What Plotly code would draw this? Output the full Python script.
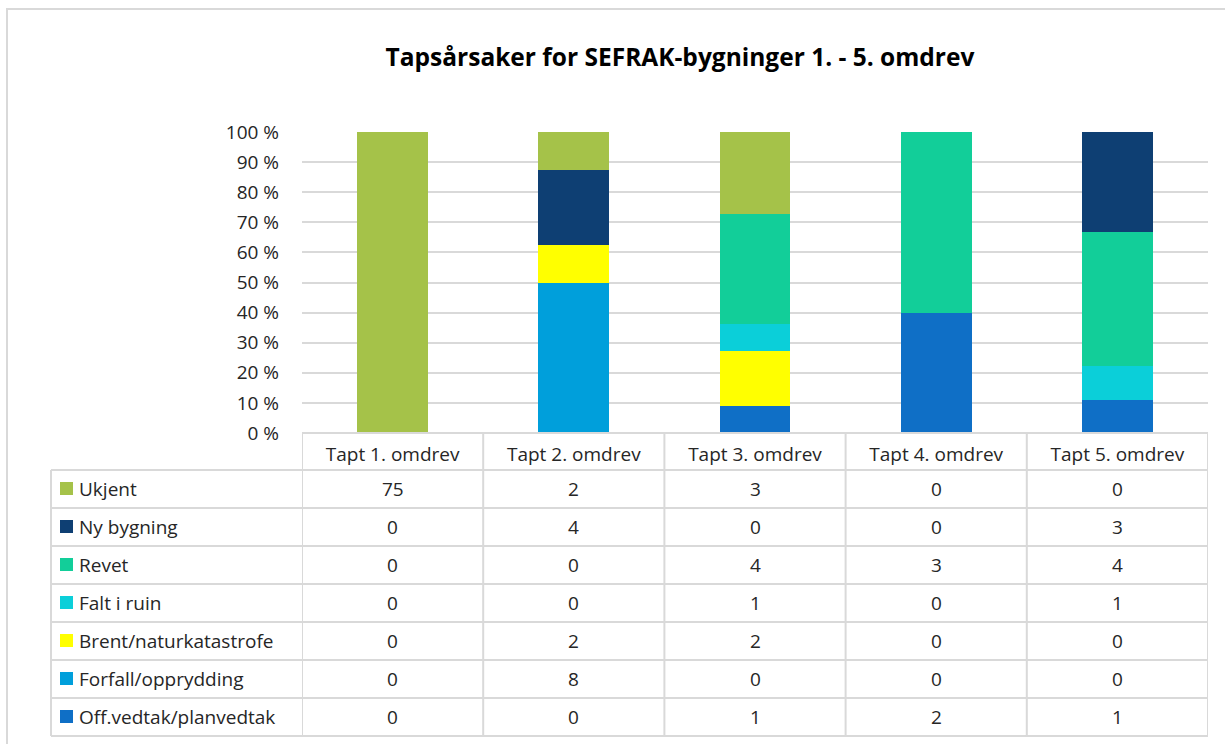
import plotly.graph_objects as go

# --- data -------------------------------------------------------------
categories = ["Tapt 1. omdrev", "Tapt 2. omdrev", "Tapt 3. omdrev",
              "Tapt 4. omdrev", "Tapt 5. omdrev"]

ukjent = [75, 2, 3, 0, 0]
ny_bygning = [0, 4, 0, 0, 3]
revet = [0, 0, 4, 3, 4]
falt_i_ruin = [0, 0, 1, 0, 1]
brent = [0, 2, 2, 0, 0]
forfall = [0, 8, 0, 0, 0]
off_vedtak = [0, 0, 1, 2, 1]

y_ticks = [0, 10, 20, 30, 40, 50, 60, 70, 80, 90, 100]
y_tick_labels = ["0 %", "10 %", "20 %", "30 %", "40 %", "50 %",
                 "60 %", "70 %", "80 %", "90 %", "100 %"]

# table order (top to bottom); bars are stacked in the reverse order
series = [
    ("Ukjent", ukjent, "#A5C249"),
    ("Ny bygning", ny_bygning, "#0E3F73"),
    ("Revet", revet, "#12CE99"),
    ("Falt i ruin", falt_i_ruin, "#0BCFD9"),
    ("Brent/naturkatastrofe", brent, "#FFFF00"),
    ("Forfall/opprydding", forfall, "#009FDB"),
    ("Off.vedtak/planvedtak", off_vedtak, "#0F6FC6"),
]

# --- layout helpers (pixel -> paper) ----------------------------------
W, H = 1225, 744
FONT = "'Open Sans', sans-serif"
GRID = "#D9D9D9"
TXT = "#262626"


def px(x):
    return x / W


def py(y):
    return 1 - y / H


PLOT_L, PLOT_R = 302, 1208
PLOT_T, PLOT_B = 132, 433
TABLE_L = 51
HEADER_B = 470
ROW_H = 38

fig = go.Figure()

for name, vals, color in reversed(series):
    fig.add_trace(go.Bar(
        x=categories, y=vals, name=name,
        marker=dict(color=color, line=dict(width=0)),
        showlegend=False, hoverinfo="x+y+name",
    ))

shapes = []
annotations = []

# outer chart border
shapes.append(dict(type="rect", xref="paper", yref="paper",
                   x0=px(7), x1=px(1240), y0=py(760), y1=py(9),
                   line=dict(color=GRID, width=2)))

# table: header row (only data columns)
shapes.append(dict(type="line", xref="paper", yref="paper",
                   x0=px(PLOT_L), x1=px(PLOT_R), y0=py(PLOT_B), y1=py(PLOT_B),
                   line=dict(color=GRID, width=2)))
# horizontal lines of the body
for i in range(len(series) + 1):
    y = HEADER_B + i * ROW_H
    shapes.append(dict(type="line", xref="paper", yref="paper",
                       x0=px(TABLE_L), x1=px(PLOT_R), y0=py(y), y1=py(y),
                       line=dict(color=GRID, width=2)))
table_bottom = HEADER_B + len(series) * ROW_H
# vertical lines: left edge of legend column
shapes.append(dict(type="line", xref="paper", yref="paper",
                   x0=px(TABLE_L), x1=px(TABLE_L), y0=py(HEADER_B), y1=py(table_bottom),
                   line=dict(color=GRID, width=2)))
# vertical lines between categories, in axis coordinates
for k in range(len(categories) + 1):
    shapes.append(dict(type="line", xref="x", yref="paper",
                       x0=k - 0.5, x1=k - 0.5, y0=py(PLOT_B), y1=py(table_bottom),
                       line=dict(color=GRID, width=2)))

# table body: legend keys, names and counts
for i, (name, vals, color) in enumerate(series):
    yc = HEADER_B + i * ROW_H + ROW_H / 2
    shapes.append(dict(type="rect", xref="paper", yref="paper",
                       x0=px(60), x1=px(73), y0=py(yc + 6), y1=py(yc - 7),
                       fillcolor=color, line=dict(width=0)))
    annotations.append(dict(text=name, xref="paper", yref="paper",
                            x=px(77), y=py(yc), xanchor="left", yanchor="middle",
                            showarrow=False, font=dict(family=FONT, size=19, color=TXT)))
    for cat, v in zip(categories, vals):
        annotations.append(dict(text=str(v), xref="x", yref="paper",
                                x=cat, y=py(yc), xanchor="center", yanchor="middle",
                                showarrow=False, font=dict(family=FONT, size=19, color=TXT)))

fig.update_layout(
    width=W, height=H,
    margin=dict(l=0, r=0, t=0, b=0, pad=0, autoexpand=False),
    paper_bgcolor="white", plot_bgcolor="white",
    barmode="stack", barnorm="percent", bargap=0.61,
    title=dict(text="<b>Tapsårsaker for SEFRAK-bygninger 1. - 5. omdrev</b>",
               x=px(680), xanchor="center", y=py(57), yanchor="middle",
               automargin=False,
               font=dict(family=FONT, size=24.5, color="black")),
    font=dict(family=FONT, color=TXT),
    xaxis=dict(domain=[px(PLOT_L), px(PLOT_R)], range=[-0.5, 4.5],
               showgrid=False, zeroline=False, showline=False, ticks="",
               automargin=False,
               tickfont=dict(size=19, color=TXT), ticklabelstandoff=8),
    yaxis=dict(domain=[py(PLOT_B), py(PLOT_T)], range=[0, 100],
               tickmode="array", tickvals=y_ticks, ticktext=y_tick_labels,
               showgrid=True, gridcolor=GRID, gridwidth=2,
               zeroline=False, showline=False, ticks="",
               automargin=False,
               tickfont=dict(size=19, color=TXT), ticklabelstandoff=22),
    shapes=shapes, annotations=annotations,
)

fig.write_html("out.html", config={"displayModeBar": False},
               post_script="document.body.style.margin='0';")
